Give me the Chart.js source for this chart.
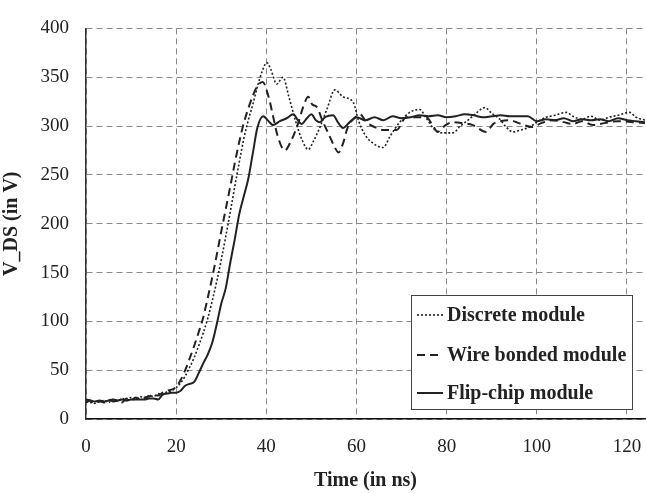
<!DOCTYPE html>
<html>
<head>
<meta charset="utf-8">
<script src="https://cdn.jsdelivr.net/npm/chart.js@4"></script>
<style>
  html, body { margin: 0; padding: 0; background: #fff; }
  #wrap { width: 646px; height: 493px; position: relative; }
</style>
</head>
<body>
<div id="wrap"><canvas id="vds-chart"></canvas></div>
<script>
// Drain-source voltage during turn-off, three module types

const seriesNames = ['Discrete module', 'Wire bonded module', 'Flip-chip module'];

const discreteTime = [0,1,2,3,4,5,6,7,8,9,10,11,12,13,14,15,16,17,18,19,20,21,22,23,24,25,26,27,28,29,30,31,32,33,34,35,36,37,38,39,40.1,41,42.3,43.7,45,46.5,48,49.3,50.5,52,53.5,55.2,57,59.3,60.5,61.9,63.5,65.9,67.5,69.6,71.8,74,75.5,77,79,81.4,83,85,86.5,88.5,90,91.8,93,94.7,96.5,98.4,100,102,104,106.6,108,110,112,114,116,118,120.6,122,124];
const discreteVolts = [18,17,16,18,19,17,20,18,21,19,22,20,23,21,24,23,26,25,28,29,32,37,44,53,63,75,88,103,121,141,163,187,212,238,263,287,306,322,340,355,365,358,343,350,330,305,285,276,285,300,318,337,330,324,305,291,283,278,290,304,314,317,308,298,293,293,300,307,313,319,313,307,300,294,296,299,304,309,311,314,310,307,310,306,309,311,314,309,306];

const wireTime = [0,1,2,3,4,5,6,7,8,9,10,11,12,13,14,15,16,17,18,19,20,21,22,23,24,25,26,27,28,29,30,31,32,33,34,35,36,37,38,39.2,40.5,41.5,42.5,44.1,45.5,47,48.2,49.3,50.2,51.1,52.5,54,55,56,57,58,59.5,60.8,62.2,64,66,68.9,71,73,75.5,77,78,79.5,81.4,83.5,85.8,88.8,90.3,92,94,96,99,101,103.6,106,108,110,112.4,115,118,121.3,124];
const wireVolts = [17,19,16,18,17,20,18,19,17,21,19,22,20,22,23,25,24,27,29,30,33,40,50,62,75,89,104,124,145,168,192,215,238,262,284,303,318,331,341,345,330,310,290,275,285,302,320,330,322,320,305,290,280,273,282,298,308,312,304,299,296,296,309,309,309,300,294,300,304,303,301,294,302,305,306,303,299,303,306,304,302,305,301,303,305,304,303];

const flipTime = [0,1,2,3,4,5,6,7,8,9,10,11,12,13,14,15,16,17,18,19,20,21,22,23,24,25,26,27,28,29,30,31,32,33,34,35,36,37,38,39.3,40.5,41.5,43,44.5,46,47,47.8,49,50,51,51.9,53,54.8,56,57,58.5,60,62,64,66,68,70,72,74,76,78,80,82,84,86,88,90,92,94,96,98,100,102,104,106,108,110,112,114,116,118,120,122,124];
const flipVolts = [20,19,18,19,18,19,20,19,20,19,20,20,20,20,21,21,20,25,26,27,27,29,34,36,38,47,57,66,78,97,118,134,160,184,210,228,246,272,298,310,305,301,305,308,312,306,302,308,312,306,304,309,311,303,298,304,309,306,309,306,310,308,309,311,310,311,309,310,312,311,309,310,311,310,310,310,305,307,306,308,305,307,306,307,305,308,306,305,304];

const xTicks = [0, 20, 40, 60, 80, 100, 120];

function toPoints(times, volts) {
    return times.map((t, i) => ({ x: t, y: volts[i] }));
}

const serif = '"Liberation Serif", "Times New Roman", serif';

// Legend box drawn inside the plot, lower right
const boxLegend = {
    id: 'boxLegend',
    afterDraw(chart) {
        const ctx = chart.ctx;
        const x = 411, y = 295, w = 221, h = 114;
        ctx.save();
        ctx.fillStyle = '#fff';
        ctx.fillRect(x, y, w, h);
        ctx.strokeStyle = '#444';
        ctx.lineWidth = 1;
        ctx.strokeRect(x + 0.5, y + 0.5, w, h);
        const rows = [315, 355, 393];
        chart.data.datasets.forEach((ds, i) => {
            ctx.strokeStyle = ds.borderColor;
            ctx.lineWidth = ds.borderWidth;
            ctx.setLineDash(ds.borderDash || []);
            ctx.beginPath();
            ctx.moveTo(417, rows[i]);
            ctx.lineTo(443, rows[i]);
            ctx.stroke();
            ctx.setLineDash([]);
            ctx.fillStyle = '#222';
            ctx.font = 'bold 20px ' + serif;
            ctx.textBaseline = 'middle';
            ctx.fillText(ds.label, 447, rows[i] + 1);
        });
        ctx.restore();
    }
};

new Chart(document.getElementById('vds-chart'), {
    type: 'line',
    data: {
        datasets: [
            {
                label: seriesNames[0],
                data: toPoints(discreteTime, discreteVolts),
                borderColor: '#222',
                borderWidth: 1.6,
                borderDash: [2, 2],
                pointRadius: 0
            },
            {
                label: seriesNames[1],
                data: toPoints(wireTime, wireVolts),
                borderColor: '#222',
                borderWidth: 2,
                borderDash: [8, 5],
                pointRadius: 0
            },
            {
                label: seriesNames[2],
                data: toPoints(flipTime, flipVolts),
                borderColor: '#222',
                borderWidth: 2,
                pointRadius: 0
            }
        ]
    },
    options: {
        responsive: true,
        maintainAspectRatio: false,
        animation: false,
        cubicInterpolationMode: 'monotone',
        layout: { padding: { top: 13, right: 1, left: 0, bottom: 0 } },
        plugins: {
            legend: { display: false },
            tooltip: { enabled: false }
        },
        scales: {
            x: {
                type: 'linear',
                min: 0,
                max: 124,
                afterBuildTicks: (scale) => {
                    scale.ticks = xTicks.map(v => ({ value: v }));
                },
                afterFit: (scale) => {
                    scale.height = 74;
                    scale.paddingLeft = 0;
                    scale.paddingRight = 0;
                },
                grid: { color: '#8a8a8a', lineWidth: 1, drawTicks: false },
                border: { display: true, color: '#111', width: 1.5, dash: [6, 4] },
                ticks: {
                    color: '#222',
                    padding: 17,
                    maxRotation: 0,
                    font: { family: serif, size: 19 }
                },
                title: {
                    display: true,
                    text: 'Time (in ns)',
                    color: '#222',
                    padding: { top: 4, bottom: 0 },
                    font: { family: serif, size: 20, weight: 'bold' }
                }
            },
            y: {
                min: 0,
                max: 400,
                afterFit: (scale) => { scale.width = 86; },
                grid: { color: '#8a8a8a', lineWidth: 1, drawTicks: false },
                border: { display: true, color: '#333', width: 1.5, dash: [6, 4] },
                ticks: {
                    stepSize: 50,
                    color: '#222',
                    padding: 17,
                    font: { family: serif, size: 19 }
                },
                title: {
                    display: true,
                    text: 'V_DS (in V)',
                    color: '#222',
                    padding: { top: 0, bottom: 4 },
                    font: { family: serif, size: 20, weight: 'bold' }
                }
            }
        }
    },
    plugins: [boxLegend]
});
</script>
</body>
</html>
